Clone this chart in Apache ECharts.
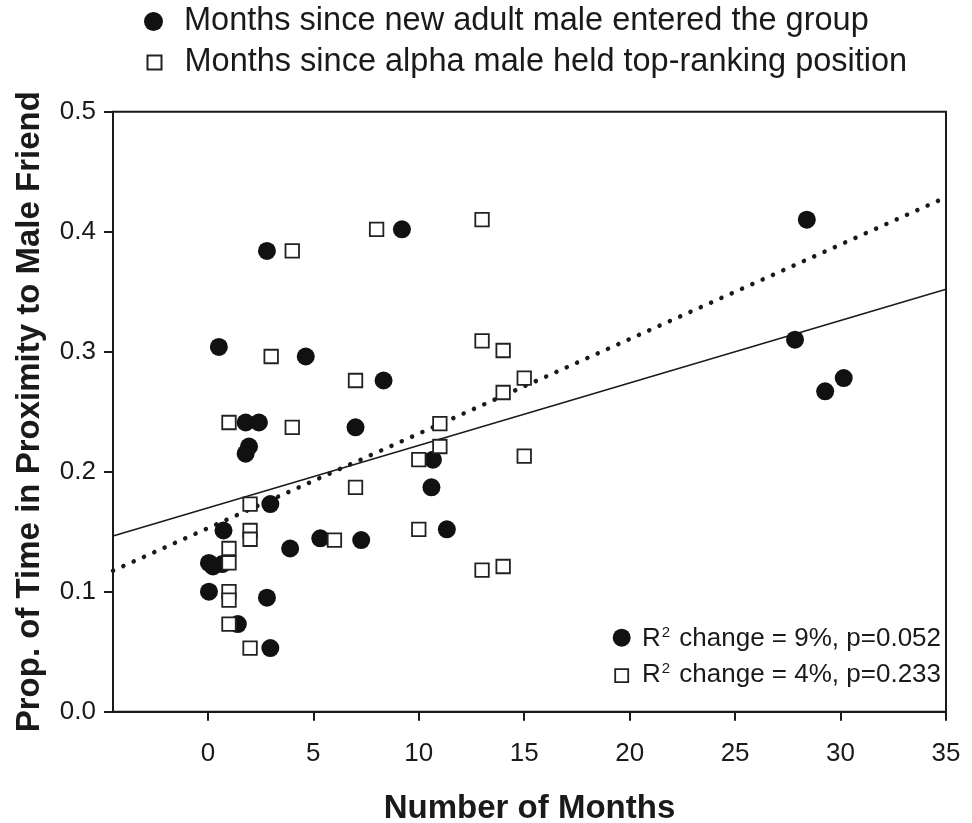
<!DOCTYPE html>
<html>
<head>
<meta charset="utf-8">
<script src="https://cdn.jsdelivr.net/npm/echarts@6/dist/echarts.min.js"></script>
<style>
html,body{margin:0;padding:0;background:#fff;}
#chart{width:972px;height:823px;}
</style>
</head>
<body>
<div id="chart"></div>
<script>
// ---- data ----
const seriesNewMale = 'Months since new adult male entered the group';
const seriesAlpha = 'Months since alpha male held top-ranking position';

const newMalePoints = [
  [0.52, 0.304], [2.8, 0.384], [9.2, 0.402], [4.64, 0.296], [8.33, 0.276],
  [1.79, 0.241], [2.42, 0.241], [1.95, 0.221], [1.79, 0.215], [7.0, 0.237],
  [10.67, 0.210], [10.6, 0.187], [11.33, 0.152], [2.96, 0.173], [0.74, 0.151],
  [3.9, 0.136], [5.33, 0.1445], [7.27, 0.143], [0.05, 0.124], [0.24, 0.121],
  [0.68, 0.123], [0.05, 0.100], [2.8, 0.095], [1.42, 0.073], [2.96, 0.053],
  [28.4, 0.410], [27.84, 0.310], [29.27, 0.267], [30.15, 0.278]
];

const alphaPoints = [
  [4, 0.384], [8, 0.402], [13, 0.410], [3, 0.296], [7, 0.276],
  [1, 0.241], [4, 0.237], [13, 0.309], [14, 0.301], [14, 0.266],
  [15, 0.278], [11, 0.240], [11, 0.221], [10, 0.210], [15, 0.213],
  [7, 0.187], [2, 0.173], [2, 0.151], [2, 0.1437], [1, 0.136],
  [1, 0.124], [6, 0.143], [10, 0.152], [1, 0.100], [1, 0.093],
  [1, 0.073], [2, 0.053], [13, 0.118], [14, 0.121]
];

// regression fit lines (end points read at the plot edges)
const fitNewMaleDotted = [[-4.5, 0.1175], [35, 0.4287]];
const fitAlphaSolid = [[-4.5, 0.1464], [35, 0.352]];

const xTickValues = [0, 5, 10, 15, 20, 25, 30, 35];
const xMin = -4.5, xMax = 35;
const yMin = 0, yMax = 0.5, yStep = 0.1;

const statsNewMale = 'R{sup|2} change = 9%, p=0.052';
const statsAlpha = 'R{sup|2} change = 4%, p=0.233';

const xTitle = 'Number of Months';
const yTitle = 'Prop. of Time in Proximity to Male Friend';

// ---- chart ----
const FONT = "'Liberation Sans', Arial, Helvetica, sans-serif";
const INK = '#1a1a1a';
const chart = echarts.init(document.getElementById('chart'), null, {renderer: 'canvas'});

const option = {
  backgroundColor: '#fff',
  animation: false,
  grid: {
    left: 113, right: 26, top: 111.7, bottom: 111.3,
    containLabel: false, outerBoundsMode: 'none',
    show: true, borderColor: INK, borderWidth: 2, backgroundColor: 'transparent'
  },
  legend: [
    {
      data: [seriesNewMale], left: 144, top: 5, padding: 0, orient: 'vertical',
      itemWidth: 19, itemHeight: 19, selectedMode: false,
      textStyle: {fontFamily: FONT, fontSize: 32.5, color: INK, padding: [0, 0, 0, 16]}
    },
    {
      data: [seriesAlpha], left: 146.5, top: 46, padding: 0, orient: 'vertical',
      itemWidth: 14, itemHeight: 14, selectedMode: false,
      textStyle: {fontFamily: FONT, fontSize: 32.5, color: INK, padding: [0, 0, 0, 18]}
    }
  ],
  xAxis: {
    type: 'value', min: xMin, max: xMax,
    name: xTitle, nameLocation: 'middle', nameGap: 81,
    nameTextStyle: {fontFamily: FONT, fontSize: 33, fontWeight: 'bold', color: INK},
    splitLine: {show: false},
    axisLine: {show: true, onZero: false, lineStyle: {color: INK, width: 2}},
    axisTick: {show: true, length: 9, lineStyle: {color: INK, width: 2}, customValues: xTickValues},
    axisLabel: {fontFamily: FONT, fontSize: 26, color: INK, margin: 29, customValues: xTickValues}
  },
  yAxis: {
    type: 'value', min: yMin, max: yMax, interval: yStep,
    name: yTitle, nameLocation: 'middle', nameGap: 67, nameRotate: 90,
    nameTextStyle: {fontFamily: FONT, fontSize: 33, fontWeight: 'bold', color: INK},
    splitLine: {show: false},
    axisLine: {show: true, onZero: false, lineStyle: {color: INK, width: 2}},
    axisTick: {show: true, length: 9, lineStyle: {color: INK, width: 2}},
    axisLabel: {fontFamily: FONT, fontSize: 26, color: INK, margin: 17,
      padding: [3, 0, 0, 0], formatter: v => v.toFixed(1)}
  },
  series: [
    {
      name: 'fit-dotted', type: 'line', data: fitNewMaleDotted, showSymbol: false,
      silent: true, z: 1,
      lineStyle: {color: INK, width: 4.5, type: [0.1, 11.2], cap: 'round'}
    },
    {
      name: 'fit-solid', type: 'line', data: fitAlphaSolid, showSymbol: false,
      silent: true, z: 1,
      lineStyle: {color: INK, width: 1.5, type: 'solid'}
    },
    {
      name: seriesNewMale, type: 'scatter', data: newMalePoints, z: 2,
      symbol: 'circle', symbolSize: 18,
      itemStyle: {color: '#111', opacity: 1}
    },
    {
      name: seriesAlpha, type: 'scatter', data: alphaPoints, z: 3,
      symbol: 'rect', symbolSize: 13.5,
      itemStyle: {color: '#fff', borderColor: '#222', borderWidth: 1.8, opacity: 1}
    }
  ],
  graphic: [
    {type: 'circle', shape: {cx: 621.7, cy: 637.7, r: 9}, style: {fill: '#111'}},
    {type: 'rect', shape: {x: 615.2, y: 669.2, width: 13, height: 13},
      style: {fill: '#fff', stroke: '#222', lineWidth: 1.8}},
    {type: 'text', x: 642, y: 639, style: {
      text: statsNewMale, font: '26px ' + FONT, fill: INK, verticalAlign: 'middle',
      rich: {sup: {fontSize: 15, fontFamily: FONT, verticalAlign: 'top', padding: [0, 2, 12, 1]}}
    }},
    {type: 'text', x: 642, y: 675, style: {
      text: statsAlpha, font: '26px ' + FONT, fill: INK, verticalAlign: 'middle',
      rich: {sup: {fontSize: 15, fontFamily: FONT, verticalAlign: 'top', padding: [0, 2, 12, 1]}}
    }}
  ]
};
chart.setOption(option);
</script>
</body>
</html>
